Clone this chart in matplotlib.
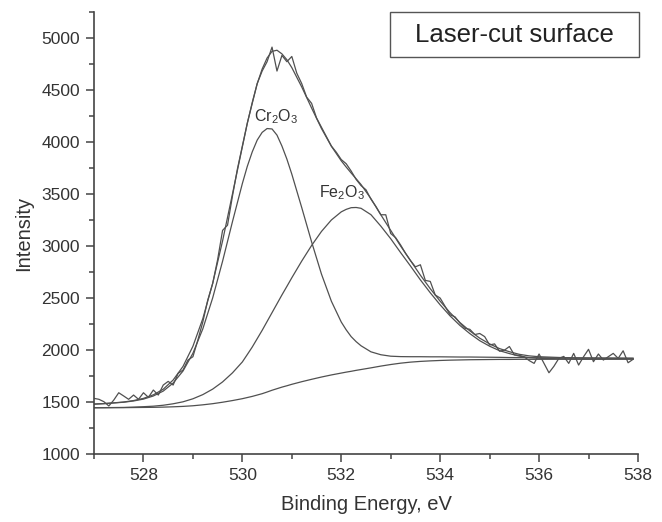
import numpy as np
import matplotlib
matplotlib.use("Agg")
from matplotlib import pyplot as plt
from matplotlib.patches import Rectangle
from matplotlib.ticker import MultipleLocator

plt.rcParams['font.family'] = ['Liberation Sans', 'DejaVu Sans']
plt.rcParams['mathtext.fontset'] = 'custom'
plt.rcParams['mathtext.rm'] = 'Liberation Sans'
plt.rcParams['mathtext.it'] = 'Liberation Sans'

# fitted curves
FIT_ENERGY = [527.0, 527.2, 527.4, 527.6, 527.8, 528.0, 528.2, 528.4, 528.6, 528.8,
              529.0, 529.2, 529.4, 529.6, 529.8, 530.0, 530.1, 530.2, 530.3, 530.4,
              530.5, 530.6, 530.7, 530.8, 530.9, 531.0, 531.2, 531.4, 531.6, 531.8,
              532.0, 532.1, 532.2, 532.3, 532.4, 532.6, 532.8,
              533.0, 533.2, 533.4, 533.6, 533.8, 534.0, 534.2, 534.4, 534.6, 534.8,
              535.0, 535.2, 535.4, 535.6, 535.8, 536.0, 536.5, 537.0, 537.5, 537.9]

BACKGROUND = [1447, 1447, 1448, 1448, 1449, 1450, 1451, 1453, 1456, 1460,
              1466, 1475, 1486, 1500, 1516, 1534, 1545, 1556, 1569, 1582,
              1598, 1615, 1630, 1645, 1658, 1672, 1697, 1720, 1742, 1762,
              1780, 1789, 1797, 1806, 1814, 1830, 1847,
              1862, 1875, 1885, 1892, 1897, 1901, 1904, 1906, 1908, 1909,
              1910, 1911, 1911, 1912, 1912, 1912, 1913, 1913, 1914, 1914]

CR2O3 = [1482, 1486, 1493, 1500, 1512, 1530, 1560, 1607, 1684, 1800,
         1970, 2204, 2502, 2854, 3234, 3600, 3765, 3904, 4017, 4091,
         4128, 4124, 4065, 3960, 3835, 3690, 3370, 3040, 2730, 2470,
         2270, 2195, 2130, 2082, 2042, 1984, 1956,
         1942, 1938, 1937, 1937, 1936, 1936, 1935, 1934, 1934, 1933,
         1932, 1931, 1929, 1929, 1928, 1927, 1925, 1924, 1923, 1922]

FE2O3 = [1447, 1448, 1449, 1450, 1453, 1457, 1462, 1471, 1485, 1504,
         1533, 1573, 1626, 1695, 1782, 1887, 1958, 2030, 2110, 2190,
         2275, 2360, 2445, 2530, 2612, 2695, 2855, 3005, 3140, 3250,
         3328, 3352, 3368, 3370, 3362, 3301, 3191,
         3070, 2937, 2808, 2675, 2551, 2435, 2329, 2237, 2159, 2091,
         2038, 1995, 1967, 1943, 1929, 1922, 1916, 1914, 1914, 1914]

ENVELOPE = [1482, 1487, 1494, 1502, 1516, 1537, 1571, 1625, 1713, 1844,
            2037, 2302, 2642, 3049, 3500, 3953, 4178, 4378, 4558, 4699,
            4805, 4869, 4880, 4845, 4789, 4713, 4528, 4325, 4128, 3958,
            3818, 3758, 3701, 3646, 3590, 3455, 3300,
            3150, 3000, 2860, 2720, 2590, 2470, 2360, 2265, 2185, 2115,
            2060, 2015, 1985, 1960, 1945, 1937, 1928, 1925, 1923, 1922]

# measured spectrum, 0.1 eV steps from 527.0 eV
RAW_START = 527.0
RAW_STEP = 0.1
RAW_COUNTS = [1537, 1528, 1505, 1464, 1521, 1591, 1560, 1528, 1569, 1528,
              1591, 1547, 1617, 1569, 1665, 1700, 1665, 1777, 1809, 1905,
              1937, 2097, 2270, 2480, 2640, 2870, 3150, 3200, 3480, 3740,
              3960, 4180, 4370, 4560, 4680, 4770, 4910, 4680, 4830, 4770,
              4820, 4660, 4560, 4430, 4370, 4230, 4140, 4050, 3960, 3900,
              3830, 3790, 3720, 3640, 3580, 3540, 3450, 3380, 3300, 3300,
              3120, 3080, 3010, 2930, 2860, 2800, 2820, 2670, 2660, 2530,
              2500, 2420, 2340, 2320, 2260, 2210, 2200, 2150, 2160, 2130,
              2050, 2060, 1990, 2000, 2035, 1955, 1950, 1935, 1900, 1873,
              1963, 1873, 1783, 1845, 1921, 1940, 1873, 1969, 1857, 1937,
              2008, 1889, 1963, 1905, 1937, 1969, 1921, 1994, 1879, 1912]

LINE_COLOR = "#505050"


def main():
    raw_energy = RAW_START + RAW_STEP * np.arange(len(RAW_COUNTS))

    fig = plt.figure(figsize=(6.62, 5.22), dpi=100)
    ax = fig.add_axes([0.142, 0.1297, 0.8217, 0.8479])

    ax.plot(raw_energy, RAW_COUNTS, color=LINE_COLOR, lw=0.9)
    ax.plot(FIT_ENERGY, ENVELOPE, color=LINE_COLOR, lw=0.9)
    ax.plot(FIT_ENERGY, CR2O3, color=LINE_COLOR, lw=0.9)
    ax.plot(FIT_ENERGY, FE2O3, color=LINE_COLOR, lw=0.9)
    ax.plot(FIT_ENERGY, BACKGROUND, color=LINE_COLOR, lw=0.9)

    ax.text(530.69, 4202, "Cr$_2$O$_3$", fontsize=11.5, color="#333333",
            ha="center", va="baseline")
    ax.text(532.02, 3472, "Fe$_2$O$_3$", fontsize=11.5, color="#333333",
            ha="center", va="baseline")

    ax.set_xlim(527, 538)
    ax.set_ylim(1000, 5250)
    ax.xaxis.set_major_locator(MultipleLocator(2))
    ax.xaxis.set_minor_locator(MultipleLocator(1))
    ax.yaxis.set_major_locator(MultipleLocator(500))
    ax.yaxis.set_minor_locator(MultipleLocator(250))

    for side in ["top", "right"]:
        ax.spines[side].set_visible(False)
    for side in ["left", "bottom"]:
        ax.spines[side].set_color("#444444")
        ax.spines[side].set_linewidth(1.2)

    ax.tick_params(which="both", direction="out", color="#444444", width=1.1)
    ax.tick_params(which="major", length=6, labelsize=12.5, labelcolor="#333333", pad=4)
    ax.tick_params(which="minor", length=3.5)

    ax.set_xlabel("Binding Energy, eV", fontsize=14.5, color="#333333")
    ax.set_ylabel("Intensity", fontsize=14.5, color="#333333")
    ax.xaxis.set_label_coords(0.5, -0.093)
    ax.yaxis.set_label_coords(-0.112, 0.5)

    # title box in the upper right corner
    box = Rectangle((0.544, 0.8977), 0.458, 0.1016, transform=ax.transAxes,
                    fill=False, edgecolor="#555555", lw=1.0, clip_on=False)
    ax.add_patch(box)
    ax.text(0.773, 0.948, "Laser-cut surface", transform=ax.transAxes,
            fontsize=18.5, color="#222222", ha="center", va="center")

    fig.savefig("out.png", dpi=100)


if __name__ == "__main__":
    main()
